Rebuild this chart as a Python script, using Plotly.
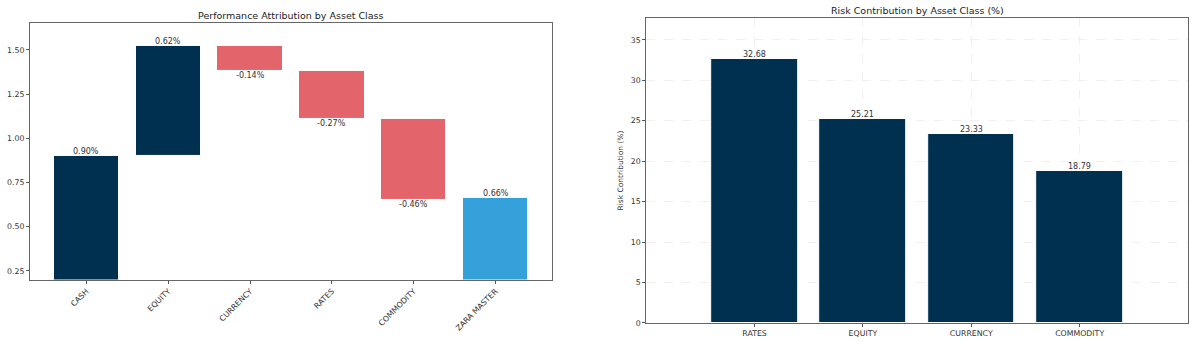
import plotly.graph_objects as go

# ---- data ----
perf_categories = ["CASH", "EQUITY", "CURRENCY", "RATES", "COMMODITY", "ZARA MASTER"]
perf_values = [0.90, 0.62, -0.14, -0.27, -0.46, 0.66]
perf_kind = ["start", "delta", "delta", "delta", "delta", "total"]

risk_categories = ["RATES", "EQUITY", "CURRENCY", "COMMODITY"]
risk_values = [32.68, 25.21, 23.33, 18.79]

NAVY = "#003050"
RED = "#E3646A"
BLUE = "#34A1DB"
FONT = "DejaVu Sans, sans-serif"
TXT = "#333333"

# build waterfall bases
bases, heights, colors = [], [], []
running = 0.0
for v, k in zip(perf_values, perf_kind):
    if k == "start":
        bases.append(0.0); heights.append(v); running = v; colors.append(NAVY)
    elif k == "total":
        bases.append(0.0); heights.append(v); colors.append(BLUE)
    else:
        bases.append(running); heights.append(v); running += v
        colors.append(NAVY if v >= 0 else RED)

fig = go.Figure()
fig.add_trace(go.Bar(
    x=list(range(len(perf_categories))), y=heights, base=bases, width=0.8,
    marker=dict(color=colors, line=dict(color="white", width=1)),
    xaxis="x", yaxis="y", showlegend=False, hoverinfo="skip"))

fig.add_trace(go.Bar(
    x=list(range(len(risk_categories))), y=risk_values, width=0.8,
    marker=dict(color=NAVY, line=dict(color="white", width=1)),
    xaxis="x2", yaxis="y2", showlegend=False, hoverinfo="skip"))

annotations = []
for i, (b, h) in enumerate(zip(bases, heights)):
    end = b + h
    top = max(b, end)
    if h >= 0:
        annotations.append(dict(x=i, y=top, xref="x", yref="y", text=f"{h:.2f}%",
                                showarrow=False, yanchor="bottom", yshift=-2,
                                font=dict(size=8, color=TXT, family=FONT)))
    else:
        annotations.append(dict(x=i, y=end, xref="x", yref="y", text=f"{h:.2f}%",
                                showarrow=False, yanchor="top", yshift=2,
                                font=dict(size=8, color=TXT, family=FONT)))
for i, v in enumerate(risk_values):
    annotations.append(dict(x=i, y=v, xref="x2", yref="y2", text=f"{v:.2f}",
                            showarrow=False, yanchor="bottom", yshift=-2,
                            font=dict(size=8, color=TXT, family=FONT)))

# titles
annotations.append(dict(x=(0.025 + 0.46) / 2, y=1 - 16 / 347, xref="paper", yref="paper",
                        text="Performance Attribution by Asset Class", showarrow=False,
                        xanchor="center", yanchor="middle",
                        font=dict(size=9.5, color="#222222", family=FONT)))
annotations.append(dict(x=(0.5389 + 0.99) / 2, y=1 - 10.5 / 347, xref="paper", yref="paper",
                        text="Risk Contribution by Asset Class (%)", showarrow=False,
                        xanchor="center", yanchor="middle",
                        font=dict(size=9.5, color="#222222", family=FONT)))

axis_common = dict(showline=True, linecolor="#666666", linewidth=1, mirror=True,
                   ticks="outside", ticklen=3, tickcolor="#555555", zeroline=False,
                   tickfont=dict(size=7.8, color=TXT, family=FONT))

fig.update_layout(
    width=1200, height=347,
    margin=dict(l=0, r=0, t=0, b=0),
    paper_bgcolor="white", plot_bgcolor="white",
    font=dict(family=FONT, color=TXT),
    bargap=0,
    annotations=annotations,
    xaxis=dict(domain=[0.025, 0.46], anchor="y", range=[-0.69, 5.69],
               tickmode="array", tickvals=list(range(len(perf_categories))),
               ticktext=perf_categories, tickangle=-45, showgrid=False, **axis_common),
    yaxis=dict(domain=[0.1824, 0.9329], anchor="x", range=[0.2, 1.653],
               tickmode="array", tickvals=[0.25, 0.5, 0.75, 1.0, 1.25, 1.5],
               ticktext=["0.25", "0.50", "0.75", "1.00", "1.25", "1.50"],
               showgrid=False, **axis_common),
    xaxis2=dict(domain=[0.5385, 0.99], anchor="y2", range=[-1, 4],
                tickmode="array", tickvals=list(range(len(risk_categories))),
                ticktext=risk_categories, tickangle=0,
                showgrid=True, gridcolor="#f0f0f0", griddash="dash", gridwidth=0.8,
                **axis_common),
    yaxis2=dict(domain=[0.0556, 0.9473], anchor="x2", range=[0, 37.7],
                tickmode="array", tickvals=[0, 5, 10, 15, 20, 25, 30, 35],
                showgrid=True, gridcolor="#f0f0f0", griddash="dash", gridwidth=0.8,
                title=dict(text="Risk Contribution (%)", standoff=6,
                           font=dict(size=7.5, color=TXT, family=FONT)),
                **axis_common),
)

fig.write_html("out.html")
